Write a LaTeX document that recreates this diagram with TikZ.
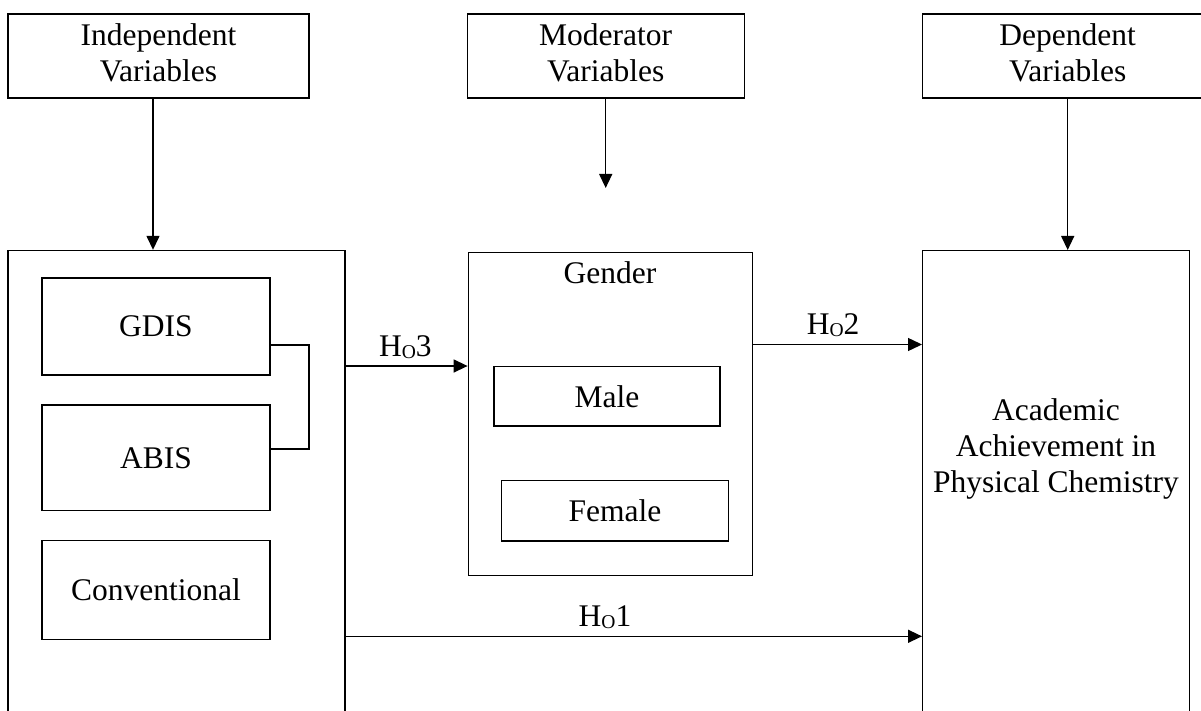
\documentclass[tikz,border=0pt]{standalone}
\usepackage{fontspec}
\setmainfont{Liberation Serif}
\usepackage{graphicx}
\usetikzlibrary{arrows.meta}
\newcommand\Hnull[1]{H\raisebox{-0.07em}{\scalebox{0.62}{O}}#1}
\begin{document}
\begin{tikzpicture}[x=1pt,y=-1pt,
  txt/.style={font=\fontsize{31.5pt}{36pt}\selectfont, inner sep=0pt, align=center},
  box/.style={txt, draw, line width=1.4pt},
  arr/.style={line width=1.4pt, -{Triangle[length=14pt,width=13pt]}},
  link/.style={line width=1.4pt},
  hlab/.style={txt, anchor=base, yshift=10pt}]
\useasboundingbox (0,0) rectangle (1201,711);
\clip (0,0) rectangle (1201,711);
% header boxes
\node[box, minimum width=301pt, minimum height=84pt] (iv) at (158.5,56) {Independent\\Variables\vphantom{p}};
\node[box, minimum width=277pt, minimum height=84pt] (mod) at (605.7,56) {Moderator\\Variables\vphantom{p}};
\node[box, minimum width=290pt, minimum height=84pt] (dep) at (1067.7,56) {Dependent\\Variables\vphantom{p}};
% big boxes
\node[box, minimum width=337pt, minimum height=489.5pt] (left) at (176.5,495.25) {};
\node[box, minimum width=266.6pt, minimum height=489.3pt] (right) at (1056,495.35) {};
\node[txt] (acad) at (1056,448.5) {Academic\\Achievement in\\Physical Chemistry};
% inner boxes left
\node[box, minimum width=228pt, minimum height=97pt] (gdis) at (156,326.5) {GDIS};
\node[box, minimum width=228pt, minimum height=105.7pt] (abis) at (156,457.85) {ABIS};
\node[box, minimum width=228pt, minimum height=98.6pt] (conv) at (156,590) {Conventional};
% gender
\node[box, minimum width=284pt, minimum height=323pt] (gender) at (610.3,414.2) {};
\node[txt, anchor=base] (glabel) at (610,283.3) {Gender};
\node[box, minimum width=226pt, minimum height=59.3pt] (male) at (607,396.35) {Male};
\node[box, minimum width=226.6pt, minimum height=60.3pt] (female) at (615,510.85) {Female};
% bracket
\coordinate (b1) at (309,345);
\coordinate (b2) at (309,449);
\draw[link] (gdis.east |- b1) -- (b1) -- (b2) -- (abis.east |- b2);
% vertical arrows
\coordinate (ivx) at (153,0);
\coordinate (modend) at (605.7,188);
\draw[arr] (iv.south -| ivx) -- (left.north -| ivx);
\draw[arr] (mod.south) -- (modend);
\draw[arr] (dep.south) -- (dep.south |- right.north);
% hypothesis arrows
\coordinate (h2) at (0,344.5);
\coordinate (h1) at (0,636.3);
\draw[arr] (left.east |- male.north) -- node[hlab, pos=0.49] (ho3) {\Hnull{3}} (gender.west |- male.north);
\draw[arr] (gender.east |- h2) -- node[hlab, pos=0.474] (ho2) {\Hnull{2}} (right.west |- h2);
\draw[arr] (left.east |- h1) -- node[hlab, pos=0.45] (ho1) {\Hnull{1}} (right.west |- h1);
\end{tikzpicture}
\end{document}
